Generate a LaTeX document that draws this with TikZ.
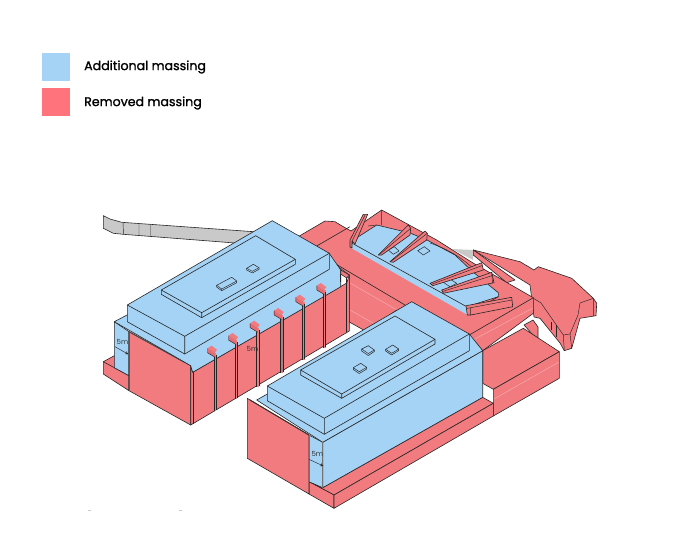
\documentclass[tikz,border=0pt]{standalone}
\usepackage{fontspec}
\setmainfont{Poppins}
\newfontfamily\legfont[FakeBold=1.4]{Poppins}
\definecolor{addblue}{HTML}{A5D3F5}
\definecolor{remred}{HTML}{F27B80}
\definecolor{legred}{HTML}{FF737D}
\definecolor{stripgrey}{HTML}{C9C9C9}
\definecolor{finred}{HTML}{E56E74}
\tikzset{
  addmass/.style={fill=addblue,draw=black!85,line width=0.6pt,line join=round},
  remmass/.style={fill=remred,draw=black!85,line width=0.6pt,line join=round},
  finmass/.style={fill=finred,draw=black!85,line width=0.5pt,line join=round},
  edge/.style={draw=black!85,line width=0.6pt},
  thinedge/.style={draw=black!85,line width=0.45pt},
  palemark/.style={draw=white,opacity=0.35,line width=0.5pt},
  dimlabel/.style={font=\fontsize{7}{8}\selectfont,text=black!80,inner sep=0pt},
  legtext/.style={font=\legfont\fontsize{12.6}{15}\selectfont,anchor=west,inner sep=0pt}
}
% one fin of the long wall: x, height of its front top corner, height of its foot
\newcommand{\wallfin}[3]{
  \fill[remred] ({#1-1},#2) rectangle ({#1+1.2},#3);
  \draw[edge] ({#1-1},{#2+4}) -- ({#1-1},#3) ({#1+1.2},{#2+2}) -- ({#1+1.2},{#3-1});
  \fill[remred,shift={(#1,#2)}] (-7.5,-4.4) -- (-3.5,-7) -- (2,-3) -- (0,0) -- cycle;
  \fill[finred,shift={(#1,#2)}] (-7.5,-4.4) -- (0,0) -- (0,4.5) -- (-7.5,0) -- cycle;
  \draw[thinedge,shift={(#1,#2)}] (-7.5,0) -- (0,4.5) (-7.5,-4.4) -- (-7.5,0);
}
\begin{document}
\begin{tikzpicture}[x=1pt,y=-1pt]
  \useasboundingbox (0,0) rectangle (676,543);
  % legend
  \node[fill=addblue,minimum size=28pt,inner sep=0pt] (addswatch) at (56,67) {};
  \node[fill=legred,minimum size=28pt,inner sep=0pt] (remswatch) at (56,102) {};
  \node[legtext] (addlabel) at (84,67) {Additional massing};
  \node[legtext] (remlabel) at (84,103) {Removed massing};
  % grey strip
  \draw[fill=stripgrey,draw=black!85,line width=0.6pt] (103.3,215.7) -- (110,219) -- (121.7,222.3) -- (258,232) -- (235,243) -- (123.3,234.3) -- (113.3,233.3) -- (103.3,228.3) -- cycle;
  \draw[thinedge] (123,222.3) -- (123.5,234.3) (139,223.5) -- (139,235.5) (150.5,224.5) -- (150.5,236.5);
  \fill[stripgrey] (452,249) -- (473,250) -- (473,260) -- cycle;
  % landform to the right
  \draw[remmass] (473.3,250) -- (520,261.7) -- (534,270) -- (538.3,266.7) -- (571.7,278.3) -- (593.3,298.3) -- (596.7,303.3) -- (596,315.7) -- (580,318.3) -- (571.7,348.3) -- (564.3,350.7) -- (560,343) -- (540,318.3) -- (534,317) -- (530,285) -- cycle;
  \draw[thinedge] (593.3,298.3) -- (580,303) -- (578,315) -- (570,334) -- (563.3,335) -- (541,303) -- (533,298);
  \draw[thinedge] (563.3,335) -- (564.3,350.7) (570,334) -- (571.7,348.3) (593.3,298.3) -- (593.3,316);
  \draw[thinedge] (551,322) -- (551,330) (556,325) -- (556,337);
  \draw[remmass] (473.3,250) -- (515,280) -- (506.7,282.7) -- (473.3,255) -- cycle;
  % small piece under the deck
  \draw[remmass] (524,325) -- (533,320) -- (538,327) -- (538,338) -- (533,335) -- cycle;
  % deck behind the buildings
  \draw[remmass] (296,238) -- (306.7,231.7) -- (325,221) -- (335,221.7) -- (343.3,226.7) -- (351,231) -- (381.7,210) -- (436.7,240) -- (473,263) -- (533.3,297.7) -- (533.3,313.3) -- (482.7,350.7) -- (469,335) -- (396.7,310) -- (366.7,331.7) -- (349.3,322) -- (349.3,275) -- (329,260) -- cycle;
  \draw[edge] (316.7,246) -- (350,226.7) (329,260) -- (405,305) (469.3,335) -- (533.3,297.7);
  \draw[palemark] (350,283) -- (397,310) (350,310) -- (373,323) (473,340) -- (533,308);
  % courtyard
  \fill[addblue] (352.3,243.3) -- (466.7,306.7) -- (467.7,315) -- (351.7,248.3) -- cycle;
  \draw[addmass] (353.3,240) -- (376.7,225) -- (410,233) -- (427,240) -- (455,255) -- (473,272) -- (498.3,292.7) -- (498.3,296.7) -- (466.7,306.7) -- (352.3,243.3) -- cycle;
  \draw[edge] (498.3,296.7) -- (470,313);
  \draw[thinedge] (381.7,210) -- (381.7,225) (368,226) -- (376.7,225);
  \draw[thinedge] (430,243) .. controls (450,250) and (462,258) .. (475,270);
  % boxes in the courtyard
  \draw[addmass,line width=0.5pt] (388.3,250) -- (394.3,246.7) -- (399,251) -- (393.3,254.3) -- cycle;
  \draw[addmass,line width=0.5pt] (417.7,250.7) -- (424.3,246.7) -- (430,251) -- (423.3,255) -- cycle;
  \draw[addmass,line width=0.5pt] (443.3,282.3) -- (450,279) -- (456.7,283.3) -- (450,286.7) -- cycle;
  % ramps
  \draw[remmass] (350,240) -- (363.3,214.3) -- (367.7,214.3) -- (355,244) -- (352,241) -- (352,248) -- (350,247) -- cycle;
  \draw[thinedge] (352,241) -- (365,215);
  \draw[remmass] (378.3,255) -- (408.3,225) -- (410.7,228.3) -- (410,235) -- (381.7,255) -- cycle;
  \draw[thinedge] (380,254) -- (410.7,228.3);
  \draw[remmass] (390,261.7) -- (425,231) -- (427.3,233.3) -- (426.7,240) -- (393.3,262.3) -- cycle;
  \draw[thinedge] (391.5,261) -- (427.3,233.3);
  \draw[remmass] (430,283.3) -- (481.7,262.7) -- (483.3,270) -- (432.7,285.7) -- cycle;
  \draw[thinedge] (431,284.5) -- (482.3,265.5);
  \draw[remmass] (441.7,290) -- (491.7,272.3) -- (494,282.7) -- (443.3,293.3) -- cycle;
  \draw[thinedge] (442.5,291.5) -- (492.5,275.5) (491.7,272.3) -- (492.5,283);
  \draw[remmass] (466,305.7) -- (511.7,297.3) -- (512.7,306.7) -- (470.7,315) -- (467.3,315) -- cycle;
  \draw[thinedge] (466.5,308.5) -- (511.9,300) (470.7,308) -- (470.7,315);
  % block in front of the deck
  \draw[remmass] (482.7,350.7) -- (523.3,328.3) -- (559.3,351.7) -- (493.3,389.3) -- (482.7,383.3) -- cycle;
  \draw[remmass] (493.3,389.3) -- (559.3,351.7) -- (559.3,378.3) -- (493.3,416) -- cycle;
  \draw[palemark] (494,399) -- (559,362);
  % left building, slab and end wall
  \draw[remmass] (103.3,361.7) -- (114.3,355.7) -- (129,364) -- (129,390.7) -- (103.3,374) -- cycle;
  \draw[edge] (103.3,361.7) -- (129,375.7);
  \draw[addmass] (114.3,321.7) -- (129,331.7) -- (129,375.7) -- (114.3,367.7) -- cycle;
  \draw[remmass] (129,331.7) -- (190.7,365.7) -- (190.7,425) -- (129,390.7) -- cycle;
  \draw[black!70,line width=1pt] (129,331.7) -- (129,390) (129,331.7) -- (184,362);
  % left building, long wall
  \draw[remmass] (192.7,372.3) -- (346.7,283) -- (349.3,275) -- (349.3,331) -- (190.7,425) -- (190.7,365.7) -- cycle;
  \draw[edge] (193,372.3) -- (193,424) (346.7,278) -- (346.7,332);
  \draw[addmass] (114.3,321.7) -- (127,315) -- (329,253) -- (340.7,270) -- (340.7,286.8) -- (192.7,372.3) -- (190.7,365.7) -- cycle;
  \draw[remmass] (340.7,270) -- (349.3,275) -- (346.7,278) -- (340.7,274) -- cycle;
  \draw[edge] (340.7,274) -- (340.7,281.7);
  % fins
  \wallfin{215}{352.7}{410.7}
  \wallfin{236}{340}{399}
  \wallfin{257.7}{327.7}{386.7}
  \wallfin{281.7}{315}{372.7}
  \wallfin{303.3}{301.7}{360}
  \wallfin{324.3}{290}{347.7}
  \fill[black!50,opacity=0.6] (280.7,319) rectangle (282.9,372);
  % left building, middle block
  \draw[addmass] (127.3,305) -- (272.3,220.7) -- (329.3,253.3) -- (329.3,269.3) -- (184.7,354) -- (127.3,321.7) -- cycle;
  \draw[edge] (127.3,305) -- (184.7,336.3) -- (329.3,253.3) (184.7,336.3) -- (184.7,354);
  % left building, penthouse
  \draw[addmass] (161.3,290) -- (255.7,235.7) -- (295.3,259.3) -- (295.3,264.3) -- (201.7,317.7) -- (161.3,294.3) -- cycle;
  \draw[edge] (161.3,290) -- (201.7,312.7) -- (295.3,259.3) (201.7,312.7) -- (201.7,317.7);
  \draw[addmass,line width=0.5pt] (216.7,285.3) -- (231.7,277.3) -- (236.7,281) -- (236.7,282.7) -- (221.7,290.7) -- (216.7,287) -- cycle;
  \draw[thinedge] (216.7,285.3) -- (221.7,289) -- (236.7,281) (221.7,289) -- (221.7,290.7);
  \draw[addmass,line width=0.5pt] (246.7,268.3) -- (253.3,264.3) -- (259,267.7) -- (259,269.3) -- (252.3,273) -- (246.7,270) -- cycle;
  \draw[thinedge] (246.7,268.3) -- (252.3,271.3) -- (259,267.7);
  % left building, dimensions
  \node[dimlabel] (dimleft) at (122.5,342) {5m};
  \draw[->,>=stealth,thinedge] (115,346.7) -- (128.3,354.3);
  \node[dimlabel] (dimwall) at (252.5,349) {5m};
  % right building, slab
  \draw[remmass] (309,481.7) -- (334,495) -- (493.3,403.3) -- (482.7,397.3) -- (322.7,487.7) -- cycle;
  \draw[remmass] (309,481.7) -- (334,495) -- (334,508.3) -- (309,494) -- cycle;
  \draw[remmass] (334,495) -- (493.3,403.3) -- (493.3,416) -- (334,508.3) -- cycle;
  % right building, podium and end wall
  \draw[addmass] (309,435) -- (322.7,442.3) -- (322.7,487.7) -- (309,481.7) -- cycle;
  \draw[addmass] (322.7,442.3) -- (482.7,350.7) -- (482.7,397.3) -- (322.7,487.7) -- cycle;
  \draw[addmass] (256.7,400) -- (267.3,394) -- (469.3,334) -- (482.7,350.7) -- (322.7,442.3) -- cycle;
  \draw[remmass] (247.3,398.3) -- (309,435) -- (309,494) -- (247.3,458.3) -- cycle;
  \draw[black!80,line width=1pt] (250,400) -- (309,435);
  \draw[black!55,line width=0.9pt] (322.7,442.3) -- (322.7,487.7) (309,435) -- (309,481.7);
  % right building, middle block
  \draw[addmass] (267.3,386) -- (411.7,301.7) -- (469.3,334) -- (469.3,350.7) -- (324.3,434.3) -- (267.3,400.7) -- cycle;
  \draw[edge] (267.3,386) -- (324.3,418.3) -- (469.3,334) (324.3,418.3) -- (324.3,434.3);
  % right building, penthouse
  \draw[addmass] (300.7,370) -- (395,316) -- (435,339.3) -- (435,344) -- (341.7,398.3) -- (300.7,375) -- cycle;
  \draw[edge] (300.7,370) -- (341.7,394) -- (435,339.3) (341.7,394) -- (341.7,398.3);
  \draw[addmass,line width=0.5pt] (361.7,349) -- (368.3,345.7) -- (374.3,350) -- (374.3,351.5) -- (368.3,355.5) -- (361.7,351) -- cycle;
  \draw[thinedge] (361.7,349) -- (368.3,353.5) -- (374.3,350);
  \draw[addmass,line width=0.5pt] (385.7,349.3) -- (392.7,345) -- (398.7,349) -- (398.7,350.5) -- (391.7,355) -- (385.7,351) -- cycle;
  \draw[thinedge] (385.7,349.3) -- (391.7,353.3) -- (398.7,349);
  \draw[addmass,line width=0.5pt] (353.3,367.7) -- (360.7,363.3) -- (366.7,367.3) -- (366.7,369) -- (359.3,373.5) -- (353.3,369.5) -- cycle;
  \draw[thinedge] (353.3,367.7) -- (359.3,371.7) -- (366.7,367.3);
  % right building, dimension
  \node[dimlabel] (dimright) at (317.3,454) {5m};
  \draw[->,>=stealth,thinedge] (309,459.3) -- (323.3,466);
  % marks at the bottom
  \draw[black!20,line width=0.7pt] (87.5,510) -- (91,510) (178.5,510) -- (182,510);
\end{tikzpicture}
\end{document}
